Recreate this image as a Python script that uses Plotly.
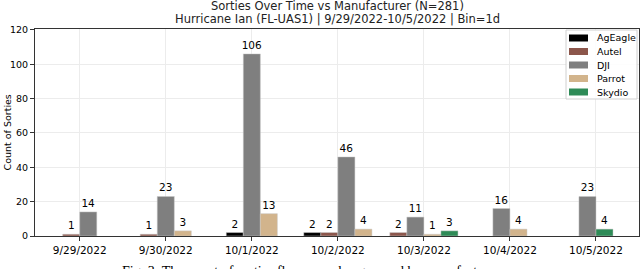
import plotly.graph_objects as go

dates = ["9/29/2022", "9/30/2022", "10/1/2022", "10/2/2022", "10/3/2022", "10/4/2022", "10/5/2022"]
manufacturers = ["AgEagle", "Autel", "DJI", "Parrot", "Skydio"]
ageagle = [0, 0, 2, 2, 0, 0, 0]
autel = [1, 1, 0, 2, 2, 0, 0]
dji = [14, 23, 106, 46, 11, 16, 23]
parrot = [0, 3, 13, 4, 1, 4, 0]
skydio = [0, 0, 0, 0, 3, 0, 4]
colors = ["#000000", "#8c564b", "#7f7f7f", "#d2b48c", "#2e8b57"]

series = [ageagle, autel, dji, parrot, skydio]
y_ticks = [0, 20, 40, 60, 80, 100, 120]

W, H = 640, 269
ML, MR, MT, MB = 35, 1, 29, 33
PW, PH = W - ML - MR, H - MT - MB


def px_x(p):
    return (p - ML) / PW


def px_y(p):
    return (H - MB - p) / PH


bar_w = 0.198

# per date, the non-zero manufacturers form a group centred on the tick
offsets = [[None] * len(dates) for _ in manufacturers]
for d in range(len(dates)):
    present = [m for m in range(len(manufacturers)) if series[m][d] > 0]
    k = len(present)
    for j, m in enumerate(present):
        offsets[m][d] = (j - k / 2) * bar_w

fig = go.Figure()
for m, name in enumerate(manufacturers):
    xs, ys, offs = [], [], []
    for d in range(len(dates)):
        if series[m][d] > 0:
            xs.append(d)
            ys.append(series[m][d])
            offs.append(offsets[m][d])
    fig.add_trace(go.Bar(
        x=xs, y=ys, name=name, offset=offs, width=bar_w,
        marker=dict(color=colors[m], line=dict(color="rgba(200,200,200,0.8)", width=0.6)),
        text=[str(v) for v in ys], textposition="outside", cliponaxis=False,
        constraintext="none",
        textfont=dict(family="DejaVu Sans", size=10.5, color="black"),
        showlegend=False,
    ))

annotations = [
    dict(text="Sorties Over Time vs Manufacturer (N=281)", xref="paper", yref="paper",
         x=0.5, y=px_y(6.5), xanchor="center", yanchor="middle", showarrow=False,
         font=dict(size=11.5, color="#222")),
    dict(text="Hurricane Ian (FL-UAS1) | 9/29/2022-10/5/2022 | Bin=1d", xref="paper", yref="paper",
         x=0.5, y=px_y(19), xanchor="center", yanchor="middle", showarrow=False,
         font=dict(size=11.5, color="#222")),
    dict(text="Count of Sorties", xref="paper", yref="paper", textangle=-90,
         x=px_x(7), y=0.5, xanchor="center", yanchor="middle", showarrow=False,
         font=dict(size=9.5, color="black")),
    dict(text="Fig. 3: The count of sorties flown per day grouped by manufacturer.",
         xref="paper", yref="paper", x=px_x(120), xanchor="left",
         y=px_y(262), yanchor="top", showarrow=False,
         font=dict(family="Liberation Serif", size=14, color="black")),
]

# legend box drawn in the style of the reference
shapes = [dict(type="rect", xref="paper", yref="paper",
               x0=px_x(566), x1=px_x(637), y0=px_y(30), y1=px_y(99),
               line=dict(color="#d0d0d0", width=1), fillcolor="rgba(255,255,255,0.9)",
               layer="above")]
for i, name in enumerate(manufacturers):
    cy = 38 + 13.5 * i
    shapes.append(dict(type="rect", xref="paper", yref="paper",
                       x0=px_x(569), x1=px_x(588), y0=px_y(cy + 3.5), y1=px_y(cy - 3.5),
                       line=dict(width=0), fillcolor=colors[i], layer="above"))
    annotations.append(dict(text=name, xref="paper", yref="paper",
                            x=px_x(595), y=px_y(cy), xanchor="left", yanchor="middle",
                            showarrow=False, font=dict(size=9.5, color="black")))

fig.update_layout(
    width=W, height=H, autosize=False,
    barmode="overlay",
    plot_bgcolor="white", paper_bgcolor="white",
    margin=dict(l=ML, r=MR, t=MT, b=MB, pad=0),
    font=dict(family="DejaVu Sans", color="black"),
    showlegend=False,
    annotations=annotations,
    shapes=shapes,
)
fig.update_xaxes(
    tickmode="array", tickvals=list(range(len(dates))), ticktext=dates,
    range=[-0.52, 6.5], showgrid=True, gridcolor="#ececec", gridwidth=1,
    showline=True, linecolor="#333", linewidth=1, mirror=True,
    ticks="outside", ticklen=4, tickcolor="#333",
    tickfont=dict(size=10.5), zeroline=False, automargin=False,
)
fig.update_yaxes(
    tickmode="array", tickvals=y_ticks, range=[0, 120.5],
    showgrid=True, gridcolor="#ececec", gridwidth=1,
    showline=True, linecolor="#333", linewidth=1, mirror=True,
    ticks="outside", ticklen=4, tickcolor="#333",
    tickfont=dict(size=9.5), zeroline=False, automargin=False,
)

fig.write_html("out.html", config={"displayModeBar": False},
               post_script="document.body.style.margin='0px';")
